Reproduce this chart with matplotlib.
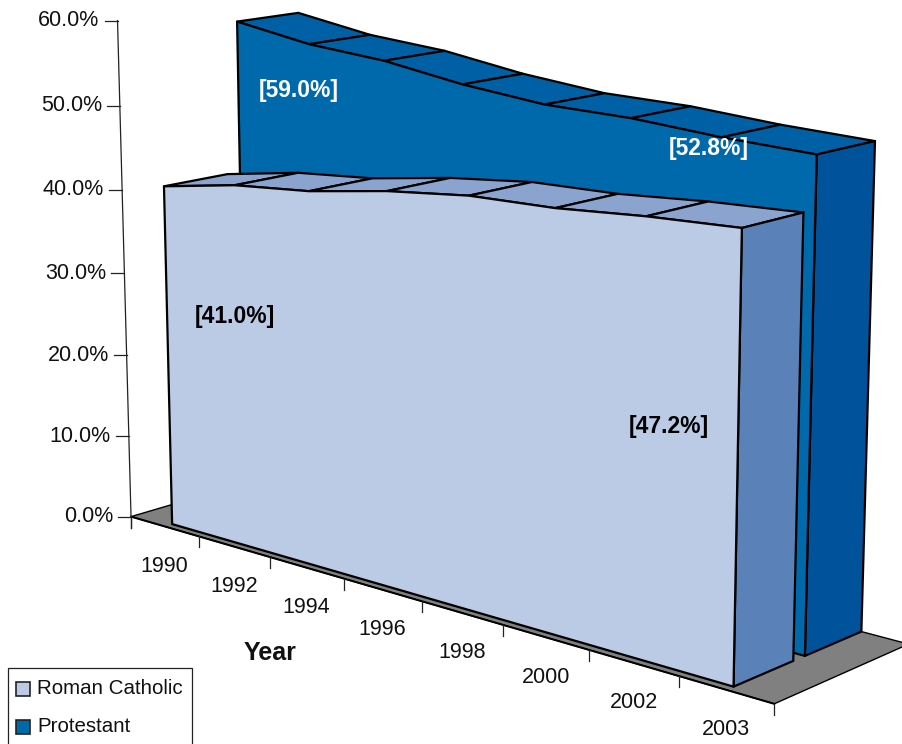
import numpy as np
import matplotlib
matplotlib.use('Agg')
import matplotlib.pyplot as plt
from matplotlib.patches import Rectangle

plt.rcParams['font.family'] = ['Liberation Sans', 'DejaVu Sans']

years = ['1990', '1992', '1994', '1996', '1998', '2000', '2002', '2003']
catholic = [41.0, 42.6, 43.4, 44.9, 45.9, 46.1, 46.8, 47.2]
protestant = [59.0, 57.4, 56.6, 55.1, 54.1, 53.9, 53.2, 52.8]
yticks = [0, 10, 20, 30, 40, 50, 60]

W, H = 903, 744

# camera: (category, percent, depth) -> pixel, fitted on the corners of the two blocks
calib = [
    (0.5, 0, 0, 172, 524), (0.5, 41, 0, 164, 187),
    (7.5, 0, 0, 733, 688), (7.5, 47.2, 0, 743, 228),
    (0.5, 41, 1, 228, 174), (7.5, 47.2, 1, 802, 212), (7.5, 0, 1, 793, 657),
    (0.5, 59, 1.2, 237, 21), (7.5, 52.8, 1.2, 817, 154), (7.5, 0, 1.2, 805, 658),
    (0.5, 59, 2.2, 298, 13), (7.5, 52.8, 2.2, 875, 142), (7.5, 0, 2.2, 862, 632),
]
rows = []
rhs = []
for x, y, z, u, v in calib:
    rows.append([x, y, z, 1, 0, 0, 0, 0, -u * x, -u * y, -u * z])
    rhs.append(u)
    rows.append([0, 0, 0, 0, x, y, z, 1, -v * x, -v * y, -v * z])
    rhs.append(v)
cam = np.linalg.lstsq(np.array(rows, float), np.array(rhs, float), rcond=None)[0]


def project(x, y, z):
    w = cam[8] * x + cam[9] * y + cam[10] * z + 1
    return ((cam[0] * x + cam[1] * y + cam[2] * z + cam[3]) / w,
            (cam[4] * x + cam[5] * y + cam[6] * z + cam[7]) / w)


def poly(ax, pts, color, lw=1.6):
    px = [project(*p) for p in pts]
    ax.fill([p[0] for p in px], [p[1] for p in px], facecolor=color,
            edgecolor='black', linewidth=lw, joinstyle='round')


def block(ax, values, z0, z1, front, top, side):
    xs = [i + 0.5 for i in range(len(values))]
    # top strip, one piece per category step
    for i in range(len(values) - 1):
        poly(ax, [(xs[i], values[i], z0), (xs[i], values[i], z1),
                  (xs[i + 1], values[i + 1], z1), (xs[i + 1], values[i + 1], z0)], top)
    poly(ax, [(xs[-1], 0, z0), (xs[-1], values[-1], z0),
              (xs[-1], values[-1], z1), (xs[-1], 0, z1)], side)
    pts = [(xs[0], 0, z0)] + [(x, v, z0) for x, v in zip(xs, values)] + [(xs[-1], 0, z0)]
    poly(ax, pts, front)


fig = plt.figure(figsize=(W / 100, H / 100), dpi=100)
ax = fig.add_axes([0, 0, 1, 1])
ax.set_xlim(0, W)
ax.set_ylim(H, 0)
ax.axis('off')

zf = -0.12
zb = 2.2

# floor
poly(ax, [(0, 0, zf), (8, 0, zf), (8, 0, zb), (0, 0, zb)], '#808080', lw=1.0)
px0, py0 = project(0, 0, zf)
px1, py1 = project(8, 0, zf)
ax.plot([px0, px1], [py0, py1], color='black', lw=1.4)

# value axis
x0, y0 = project(0, 0, zf)
x1, y1 = project(0, 60, zf)
ax.plot([x0, x1], [y0, y1], color='#222222', lw=0.9)
ax.plot([x0, x0], [y0, y0 + 11], color='#222222', lw=0.9)
for t in yticks:
    px, py = project(0, t, zf)
    ax.plot([px - 13, px], [py, py], color='#222222', lw=0.9)
    ax.text(px - 18, py, '%.1f%%' % t, ha='right', va='center', fontsize=15.5, color='#111111')

# category axis
for i in range(len(years) + 1):
    px, py = project(i, 0, zf)
    ax.plot([px, px], [py, py + 11], color='#222222', lw=0.9)
for i, lab in enumerate(years):
    px, py = project(i + 0.5, 0, zf)
    ax.text(px, py + 40, lab, ha='center', va='center', fontsize=15.5, color='#111111')

block(ax, protestant, 1.2, 2.2, '#0069AC', '#0060A5', '#00529B')
block(ax, catholic, 0, 1, '#BBCAE5', '#8BA4CF', '#5B82B8')

ax.text(299, 91, '[%.1f%%]' % protestant[0], color='white', fontweight='bold',
        fontsize=16.5, ha='center', va='center')
ax.text(709, 149, '[%.1f%%]' % protestant[-1], color='white', fontweight='bold',
        fontsize=16.5, ha='center', va='center')
ax.text(235, 317, '[%.1f%%]' % catholic[0], color='black', fontweight='bold',
        fontsize=16.5, ha='center', va='center')
ax.text(669, 427, '[%.1f%%]' % catholic[-1], color='black', fontweight='bold',
        fontsize=16.5, ha='center', va='center')

ax.text(270, 653, 'Year', fontweight='bold', fontsize=18, ha='center', va='center', color='#111111')

# legend, runs off the bottom of the picture
ax.add_patch(Rectangle((8, 668), 184, 90, facecolor='white', edgecolor='#222222', lw=0.9))
ax.add_patch(Rectangle((16, 682), 14, 14, facecolor='#BBCAE5', edgecolor='#222222', lw=1.2))
ax.add_patch(Rectangle((16, 720), 14, 14, facecolor='#0069AC', edgecolor='#222222', lw=1.2))
ax.text(37, 688, 'Roman Catholic', fontsize=14.8, va='center', color='#111111')
ax.text(37, 726, 'Protestant', fontsize=14.8, va='center', color='#111111')

fig.savefig('out.png', dpi=100)
